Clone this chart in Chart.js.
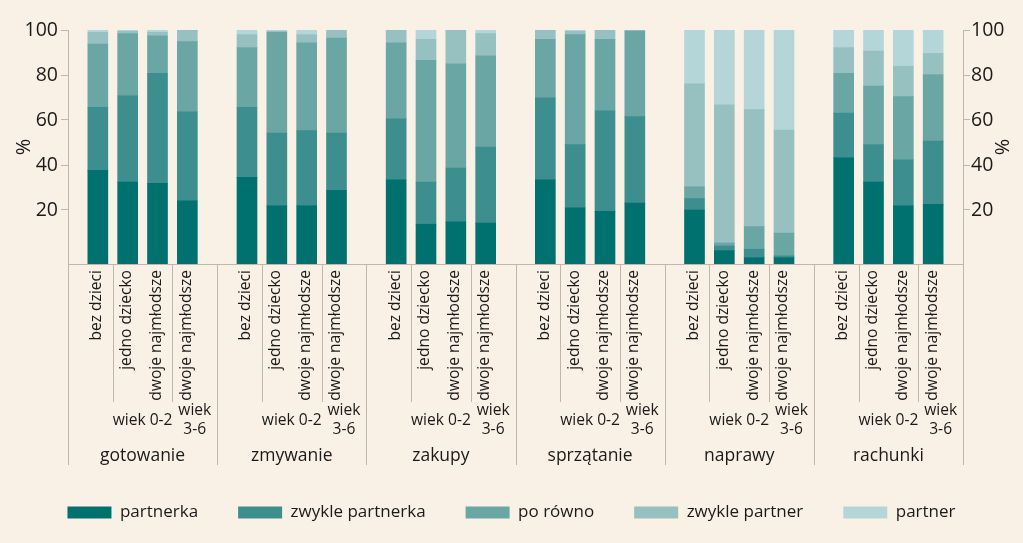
<!DOCTYPE html>
<html><head><meta charset="utf-8">
<script src="https://cdn.jsdelivr.net/npm/chart.js@4.4.1/dist/chart.umd.min.js"></script>
<style>html,body{margin:0;padding:0;background:#faf1e6;} #wrap{width:1023px;height:543px;position:relative;}</style>
</head><body><div id="wrap"><canvas id="c"></canvas></div>
<script>
const groups = ['gotowanie','zmywanie','zakupy','sprzątanie','naprawy','rachunki'];
const subLabels = ['bez dzieci','jedno dziecko','dwoje najmłodsze','dwoje najmłodsze'];
const ageLabel02 = 'wiek 0-2';
const ageLabel36 = ['wiek','3-6'];
const seriesNames = ['partnerka','zwykle partnerka','po równo','zwykle partner','partner'];
const yTicks = [20,40,60,80,100];

// values per group: bez dzieci, jedno dziecko, dwoje (0-2), dwoje (3-6)
const partnerka       = [40,35,34.5,27, 37,25,25,31.5, 36,17,18,17.5, 36,24,22.5,26, 23,5.7,2.7,2.7, 45.5,35,25,25.5];
const zwyklePartnerka = [27,37,47,38, 30,31,32,24.5, 26,18,23,32.5, 35,27,43,37, 5,2,3.6,0.8, 19,16,19.5,27];
const poRowno         = [27,26.5,16,30, 25.5,43,37.5,40.5, 32.5,52,44.5,39, 25,47,30.5,36.5, 5,1.3,9.7,9.7, 17,25,27,28.5];
const zwyklePartner   = [5,1,1.5,5, 5.5,0.5,3.5,3.5, 5.5,9,14.5,9.5, 4,1.5,4,0.5, 44,59,50,44, 11,15,13,9];
const partner         = [1,0.5,1,0, 2,0.5,2,0, 0,4,0,1.5, 0,0.5,0,0, 23,32,34,42.8, 7.5,9,15.5,10];

const colors = ['#00716f','#3d8e8e','#6aa6a3','#96c1c0','#b4d6d8'];
const axisColor = '#bdb7ae';
const textColor = '#1a1a1a';
const FONT = "'Open Sans', 'Noto Sans', sans-serif";

// category slots: one empty slot at each group boundary
const labels = [];
groups.forEach(g => { labels.push(''); subLabels.forEach(s => labels.push(g + ' – ' + s)); });
labels.push('');
function spread(arr) {
  const out = [];
  groups.forEach((g, gi) => { out.push(null); for (let k = 0; k < 4; k++) out.push(arr[gi*4+k]); });
  out.push(null);
  return out;
}
const seriesData = [partnerka, zwyklePartnerka, poRowno, zwyklePartner, partner];

const xLabelPlugin = {
  id: 'xLabels',
  afterDraw(chart) {
    const ctx = chart.ctx, xs = chart.scales.x, base = chart.chartArea.bottom;
    const line = (x, y0, y1) => { const xx = Math.round(x) + 0.5; ctx.beginPath(); ctx.moveTo(xx, y0); ctx.lineTo(xx, y1); ctx.stroke(); };
    ctx.save();
    ctx.strokeStyle = axisColor; ctx.lineWidth = 1; ctx.fillStyle = textColor;
    groups.forEach((g, gi) => {
      const px = v => xs.getPixelForValue(gi*5 + v);
      line(px(0), base, 465);
      line(px(1.5), base, 402);
      line(px(3.5), base, 402);
      if (gi === groups.length - 1) line(px(5), base, 465);
      ctx.font = '15.6px ' + FONT;
      subLabels.forEach((s, k) => {
        ctx.save();
        ctx.translate(px(k+1) - 1, base + 6);
        ctx.rotate(-Math.PI/2);
        ctx.textAlign = 'right'; ctx.textBaseline = 'middle';
        ctx.fillText(s, 0, 0);
        ctx.restore();
      });
      ctx.textAlign = 'center'; ctx.textBaseline = 'middle';
      ctx.font = '15.6px ' + FONT;
      ctx.fillText(ageLabel02, (px(1.5) + px(3.5)) / 2, 421);
      const cx = (px(3.5) + px(5)) / 2;
      ctx.fillText(ageLabel36[0], cx, 411);
      ctx.fillText(ageLabel36[1], cx, 430);
      ctx.font = '17.5px ' + FONT;
      ctx.fillText(g, px(2.5), 456);
    });
    ctx.restore();
  }
};

const yAxisCommon = (pos) => ({
  position: pos, min: -4, max: 100,
  afterBuildTicks: s => { s.ticks = yTicks.map(v => ({value: v})); },
  ticks: { font: {size: 19.5, family: FONT}, color: textColor, padding: pos === 'left' ? 3 : 1 },
  grid: { drawOnChartArea: false, drawTicks: true, tickLength: 7, color: axisColor },
  border: { display: true, color: axisColor },
  title: { display: true, text: '%', font: {size: 20, family: FONT}, color: textColor, padding: {top: pos === 'left' ? 12 : 10, bottom: 0} },
  afterFit: s => { s.width = pos === 'left' ? 68 : 60; }
});

new Chart(document.getElementById('c'), {
  type: 'bar',
  data: {
    labels: labels,
    datasets: seriesNames.map((n, i) => ({
      label: n, data: spread(seriesData[i]), backgroundColor: colors[i],
      borderWidth: 0, barThickness: 20, yAxisID: 'y'
    }))
  },
  options: {
    responsive: true, maintainAspectRatio: false, animation: false, events: [],
    layout: { padding: {top: 30, left: 0, right: 0, bottom: 12} },
    font: { family: FONT },
    scales: {
      x: { stacked: true, offset: false, grid: {display: false}, ticks: {display: false},
           border: {display: true, color: axisColor}, afterFit: s => { s.height = 200; } },
      y: { stacked: true, display: false, min: 0, max: 100 },
      yl: yAxisCommon('left'),
      yr: yAxisCommon('right')
    },
    plugins: {
      tooltip: {enabled: false},
      legend: { position: 'bottom',
        labels: { boxWidth: 44, boxHeight: 12, padding: 40, color: textColor, font: {size: 17, family: FONT} } }
    }
  },
  plugins: [xLabelPlugin]
});
</script></body></html>
